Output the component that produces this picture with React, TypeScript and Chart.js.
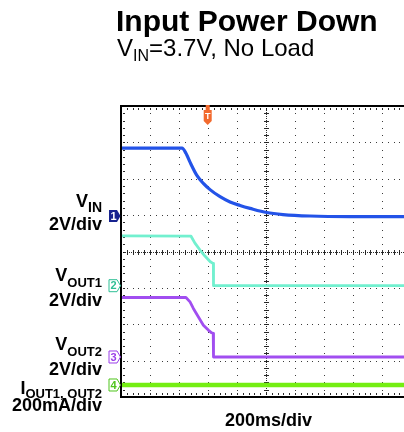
import React, { useEffect, useRef } from "react";
import { Chart, registerables } from "chart.js";

Chart.register(...registerables);

// ---- data (time in ms, 200 ms/div) ----
const timePerDiv = 200;
const xDivisions = 10;
const yDivisions = 8;
const triggerTime = 598;

// VIN, 2 V/div
const vinTime = [0, 421, 448, 476, 522, 568, 614, 683, 752, 821, 890, 1005, 1117, 1303, 1579, 2000];
const vinVolts = [3.73, 3.73, 3.45, 2.96, 2.25, 1.79, 1.45, 1.06, 0.77, 0.58, 0.42, 0.19, 0.08, 0.0, -0.03, -0.03];

// VOUT1, 2 V/div
const vout1Time = [0, 483, 510, 545, 579, 614, 634, 637, 638, 2000];
const vout1Volts = [2.74, 2.72, 2.34, 1.96, 1.63, 1.33, 1.23, 1.22, 0, 0];

// VOUT2, 2 V/div
const vout2Time = [0, 448, 476, 499, 533, 568, 602, 625, 636, 638, 2000];
const vout2Volts = [3.27, 3.27, 3.03, 2.67, 2.21, 1.75, 1.48, 1.33, 1.3, 0, 0];

// IOUT1, OUT2, 200 mA/div
const ioutTime = [0, 2000];
const ioutMilliamps = [0, 0];

// channel settings: units per division and ground position (divisions from centre)
const channelNames = ["1", "2", "3", "4"];
const channelScale = [2, 2, 2, 200];
const channelGround = [0.976, -0.94, -2.9, -3.67];
const channelColors = ["#2353e8", "#72f0cf", "#a14ef0", "#74ee12"];
const markerColors = ["#17238f", "#2fbf95", "#9a3ee8", "#4fc41c"];
const lineWidths = [3.2, 2.8, 2.8, 4.5];

const FONT = '"Liberation Sans", Arial, Helvetica, sans-serif';

function toPoints(ts: number[], vs: number[], ch: number) {
  return ts.map((t, i) => ({ x: t, y: channelGround[ch] + vs[i] / channelScale[ch] }));
}

const scopePlugin = {
  id: "scope",
  beforeDatasetsDraw(chart: any) {
    const { ctx, chartArea: a, scales } = chart;
    const xs = scales.x;
    const ys = scales.y;
    ctx.save();
    ctx.fillStyle = "rgba(50,50,50,0.95)";
    const half = yDivisions / 2;
    // vertical graticule lines
    for (let i = 1; i < xDivisions; i++) {
      if (i === xDivisions / 2) continue;
      const px = Math.round(xs.getPixelForValue(i * timePerDiv));
      for (let m = -half * 5; m <= half * 5; m++) {
        const py = Math.round(ys.getPixelForValue(m / 5));
        ctx.fillRect(px, py, 1, 1);
      }
    }
    // horizontal graticule lines
    for (let j = -half + 1; j < half; j++) {
      if (j === 0) continue;
      const py = Math.round(ys.getPixelForValue(j));
      for (let m = 0; m <= xDivisions * 5; m++) {
        const px = Math.round(xs.getPixelForValue((m * timePerDiv) / 5));
        ctx.fillRect(px, py, 1, 1);
      }
    }
    // centre lines
    const cx = Math.round(xs.getPixelForValue((xDivisions / 2) * timePerDiv));
    const cy = Math.round(ys.getPixelForValue(0));
    ctx.fillStyle = "rgba(20,20,20,0.9)";
    for (let y = a.top; y <= a.bottom; y += 2) ctx.fillRect(cx, y, 1, 1);
    for (let x = a.left; x <= a.right; x += 2) ctx.fillRect(x, cy, 1, 1);
    for (let m = -half * 5; m <= half * 5; m++) {
      const py = Math.round(ys.getPixelForValue(m / 5));
      ctx.fillRect(cx - 2, py, 5, 1);
      ctx.fillRect(a.left + 2, py, 2, 1);
    }
    for (let m = 0; m <= xDivisions * 5; m++) {
      const px = Math.round(xs.getPixelForValue((m * timePerDiv) / 5));
      ctx.fillRect(px, cy - 2, 1, 5);
      ctx.fillRect(px, a.top + 2, 1, 2);
      ctx.fillRect(px, a.bottom - 4, 1, 2);
    }
    ctx.restore();
  },
  afterDatasetsDraw(chart: any) {
    const { ctx, chartArea: a, scales } = chart;
    const xs = scales.x;
    const ys = scales.y;
    ctx.save();
    // border
    ctx.strokeStyle = "#000";
    ctx.lineWidth = 2;
    ctx.strokeRect(a.left, a.top, a.right - a.left, a.bottom - a.top);

    // channel ground markers
    channelNames.forEach((name, i) => {
      const py = ys.getPixelForValue(channelGround[i]);
      const x0 = a.left - 12;
      const x1 = a.left - 4;
      const x2 = a.left - 0.5;
      ctx.beginPath();
      ctx.moveTo(x0, py - 6);
      ctx.lineTo(x1, py - 6);
      ctx.lineTo(x2, py);
      ctx.lineTo(x1, py + 6);
      ctx.lineTo(x0, py + 6);
      ctx.closePath();
      if (i === 0) {
        ctx.fillStyle = markerColors[i];
        ctx.fill();
      } else {
        ctx.fillStyle = "#fff";
        ctx.fill();
        ctx.lineWidth = 1;
        ctx.strokeStyle = markerColors[i];
        ctx.stroke();
      }
      ctx.fillStyle = i === 0 ? "#fff" : markerColors[i];
      ctx.font = `bold 11px ${FONT}`;
      ctx.textAlign = "center";
      ctx.textBaseline = "middle";
      ctx.fillText(name, x0 + 4.5, py + 0.5);
    });

    // trigger marker
    const tx = xs.getPixelForValue(triggerTime);
    ctx.fillStyle = "#f26a2e";
    ctx.fillRect(tx - 2, a.top - 1, 4, 6);
    ctx.beginPath();
    ctx.moveTo(tx - 4, a.top + 4);
    ctx.lineTo(tx + 4, a.top + 4);
    ctx.lineTo(tx + 4, a.top + 15);
    ctx.lineTo(tx, a.top + 19);
    ctx.lineTo(tx - 4, a.top + 15);
    ctx.closePath();
    ctx.fill();
    ctx.fillStyle = "#fff";
    ctx.font = `bold 9px ${FONT}`;
    ctx.textAlign = "center";
    ctx.textBaseline = "middle";
    ctx.fillText("T", tx, a.top + 11);
    ctx.restore();
  },
};

function ScopeChart() {
  const ref = useRef<HTMLCanvasElement | null>(null);
  useEffect(() => {
    if (!ref.current) return;
    const series = [
      toPoints(vinTime, vinVolts, 0),
      toPoints(vout1Time, vout1Volts, 1),
      toPoints(vout2Time, vout2Volts, 2),
      toPoints(ioutTime, ioutMilliamps, 3),
    ];
    const chart = new Chart(ref.current, {
      type: "line",
      data: {
        datasets: series.map((pts, i) => ({
          label: `CH${channelNames[i]}`,
          data: pts,
          borderColor: channelColors[i],
          borderWidth: lineWidths[i],
          pointRadius: 0,
          tension: 0,
          cubicInterpolationMode: i === 0 ? "monotone" : "default",
          borderJoinStyle: "round",
          fill: false,
        })),
      },
      options: {
        responsive: false,
        animation: false,
        devicePixelRatio: 1,
        layout: { padding: { left: 121, top: 106, right: 1, bottom: 35 } },
        plugins: { legend: { display: false }, tooltip: { enabled: false }, title: { display: false } },
        events: [],
        scales: {
          x: { type: "linear", min: 0, max: xDivisions * timePerDiv, display: false },
          y: { type: "linear", min: -yDivisions / 2, max: yDivisions / 2, display: false },
        },
      },
      plugins: [scopePlugin],
    } as any);
    return () => chart.destroy();
  }, []);
  return <canvas ref={ref} width={412} height={432} style={{ display: "block" }} />;
}

const labelStyle = (baseline: number, size: number): React.CSSProperties => ({
  position: "absolute",
  left: 0,
  width: 102,
  textAlign: "right",
  top: baseline - 0.8465 * size,
  fontSize: size,
  lineHeight: 1,
  fontWeight: "bold",
  fontFamily: FONT,
  color: "#000",
  whiteSpace: "nowrap",
});

const subStyle = (size: number, drop: number): React.CSSProperties => ({
  fontSize: size,
  verticalAlign: -drop,
  lineHeight: 1,
});

export default function App() {
  return (
    <div
      style={{
        position: "absolute",
        left: 0,
        top: 0,
        width: 404,
        height: 432,
        overflow: "hidden",
        background: "#fff",
        fontFamily: FONT,
      }}
    >
      <div style={{ position: "absolute", left: 0, top: 0 }}>
        <ScopeChart />
      </div>
      <div
        style={{
          position: "absolute",
          left: 116,
          top: 31 - 0.8465 * 30,
          fontSize: 30,
          lineHeight: 1,
          fontWeight: "bold",
          whiteSpace: "nowrap",
        }}
      >
        Input Power Down
      </div>
      <div
        style={{
          position: "absolute",
          left: 117,
          top: 56.7 - 0.8465 * 24,
          fontSize: 24,
          lineHeight: 1,
          whiteSpace: "nowrap",
        }}
      >
        V<span style={subStyle(16, 5)}>IN</span>=3.7V, No Load
      </div>

      <div style={labelStyle(207.7, 18)}>
        V<span style={subStyle(14, 4.5)}>IN</span>
      </div>
      <div style={labelStyle(230.7, 18)}>2V/div</div>

      <div style={labelStyle(281.7, 18)}>
        V<span style={subStyle(13, 5.5)}>OUT1</span>
      </div>
      <div style={labelStyle(306.7, 18)}>2V/div</div>

      <div style={labelStyle(350.7, 18)}>
        V<span style={subStyle(13, 5.5)}>OUT2</span>
      </div>
      <div style={labelStyle(375, 18)}>2V/div</div>

      <div style={labelStyle(394.5, 18)}>
        I<span style={subStyle(13, 4)}>OUT1, OUT2</span>
      </div>
      <div style={labelStyle(411, 18)}>200mA/div</div>

      <div
        style={{
          position: "absolute",
          left: 225,
          top: 426.7 - 0.8465 * 18,
          fontSize: 18,
          lineHeight: 1,
          fontWeight: "bold",
          whiteSpace: "nowrap",
        }}
      >
        200ms/div
      </div>
    </div>
  );
}
